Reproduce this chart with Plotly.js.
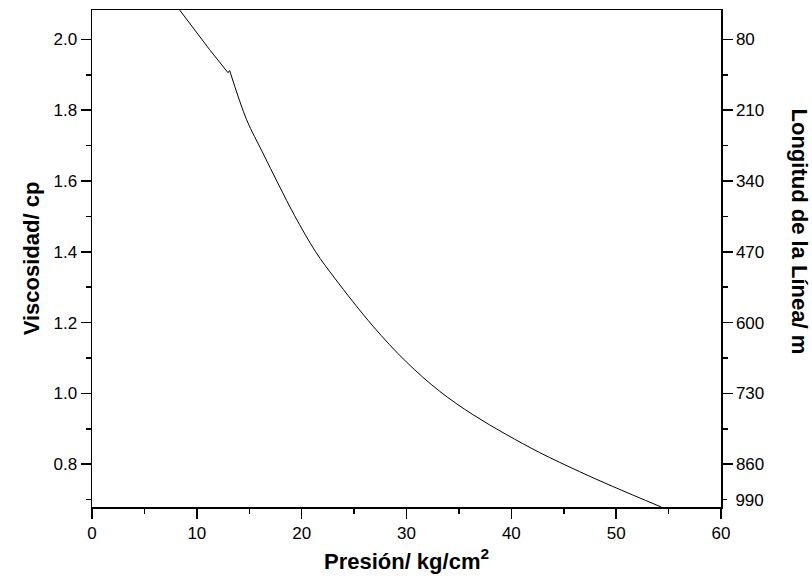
<!DOCTYPE html>
<html>
<head>
<meta charset="utf-8">
<script src="https://cdn.plot.ly/plotly-3.0.1.min.js"></script>
<style>html,body{margin:0;padding:0;background:#fff;}#chart{width:812px;height:588px;}</style>
</head>
<body>
<div id="chart"></div>
<script>
// Pressure (kg/cm2) vs viscosity (cp)
const pressure  = [8.36, 11.22, 12.97, 13.13, 14.75, 16.25, 17.83, 19.33, 21.33, 23.14, 26.80, 29.98, 33.16, 36.33, 39.51, 42.69, 46.50, 49.68, 54.30];
const viscosity = [2.083, 1.971, 1.906, 1.912, 1.773, 1.682, 1.588, 1.502, 1.400, 1.326, 1.190, 1.089, 1.006, 0.940, 0.884, 0.833, 0.779, 0.737, 0.679];
const kinkIndex = 3; // straight segment up to the small kink, smooth curve after it

// Right axis (line length, m) labels placed at viscosity-axis positions
const lengthTickPos    = [2.0, 1.8, 1.6, 1.4, 1.2, 1.0, 0.8];
const lengthTickLabels = ['80', '210', '340', '470', '600', '730', '860'];
const lengthMinorPos   = [1.9, 1.7, 1.5, 1.3, 1.1, 0.9];
const lengthLastPos    = [0.7];
const lengthLastLabel  = ['990'];

const FONT = 'Liberation Sans, Arial, Helvetica, sans-serif';
const yRange = [0.679, 2.083];

const straightPart = {
  x: pressure.slice(0, kinkIndex + 1), y: viscosity.slice(0, kinkIndex + 1),
  type: 'scatter', mode: 'lines', line: {color: '#000', width: 1},
  hoverinfo: 'skip', showlegend: false
};
const curvedPart = {
  x: pressure.slice(kinkIndex), y: viscosity.slice(kinkIndex),
  type: 'scatter', mode: 'lines', line: {color: '#000', width: 1, shape: 'spline', smoothing: 1},
  hoverinfo: 'skip', showlegend: false
};

const layout = {
  width: 812, height: 588,
  margin: {l: 92, r: 91, t: 10, b: 81},
  paper_bgcolor: '#fff', plot_bgcolor: '#fff',
  font: {family: FONT, color: '#000', size: 17},
  showlegend: false,
  xaxis: {
    range: [0, 60], dtick: 10, tick0: 0,
    ticks: 'outside', ticklen: 10, tickwidth: 1.5, tickcolor: '#000',
    minor: {dtick: 5, tick0: 0, ticks: 'outside', ticklen: 5, tickwidth: 1.5, tickcolor: '#000', showgrid: false},
    showline: true, linewidth: 1.5, linecolor: '#000', mirror: true,
    showgrid: false, zeroline: false,
    tickfont: {size: 17},
    title: {text: '<b>Presión/ kg/cm<sup>2</sup></b>', font: {size: 22}, standoff: 11}
  },
  yaxis: {
    range: yRange, dtick: 0.2, tick0: 0.8, tickformat: '.1f',
    ticks: 'outside', ticklen: 10, tickwidth: 1.5, tickcolor: '#000',
    minor: {dtick: 0.1, tick0: 0.7, ticks: 'outside', ticklen: 5, tickwidth: 1.5, tickcolor: '#000', showgrid: false},
    showline: true, linewidth: 1.5, linecolor: '#000',
    showgrid: false, zeroline: false,
    tickfont: {size: 17},
    title: {text: '<b>Viscosidad/ cp</b>', font: {size: 22}, standoff: 8}
  },
  yaxis2: {
    overlaying: 'y', side: 'right', anchor: 'x', range: yRange,
    tickmode: 'array', tickvals: lengthTickPos, ticktext: lengthTickLabels,
    ticks: 'outside', ticklen: 10, tickwidth: 1.5, tickcolor: '#000',
    minor: {tickmode: 'array', tickvals: lengthMinorPos, ticks: 'outside', ticklen: 5, tickwidth: 1.5, tickcolor: '#000', showgrid: false},
    showline: true, linewidth: 1.5, linecolor: '#000',
    showgrid: false, zeroline: false, tickfont: {size: 17}
  },
  yaxis3: {
    overlaying: 'y', side: 'right', anchor: 'x', range: yRange,
    tickmode: 'array', tickvals: lengthLastPos, ticktext: lengthLastLabel,
    ticks: 'outside', ticklen: 5, tickwidth: 1.5, tickcolor: '#000', ticklabelstandoff: 5,
    showline: false, showgrid: false, zeroline: false, tickfont: {size: 17}
  },
  annotations: [{
    text: '<b>Longitud de la Línea/ m</b>', xref: 'paper', yref: 'paper',
    x: 1.125, y: 0.555, xanchor: 'center', yanchor: 'middle', textangle: 90,
    showarrow: false, font: {size: 22, family: FONT, color: '#000'}
  }]
};

Plotly.newPlot('chart', [straightPart, curvedPart,
  {x: [], y: [], yaxis: 'y2', showlegend: false, hoverinfo: 'skip'},
  {x: [], y: [], yaxis: 'y3', showlegend: false, hoverinfo: 'skip'}], layout, {staticPlot: true, displayModeBar: false});
</script>
</body>
</html>
